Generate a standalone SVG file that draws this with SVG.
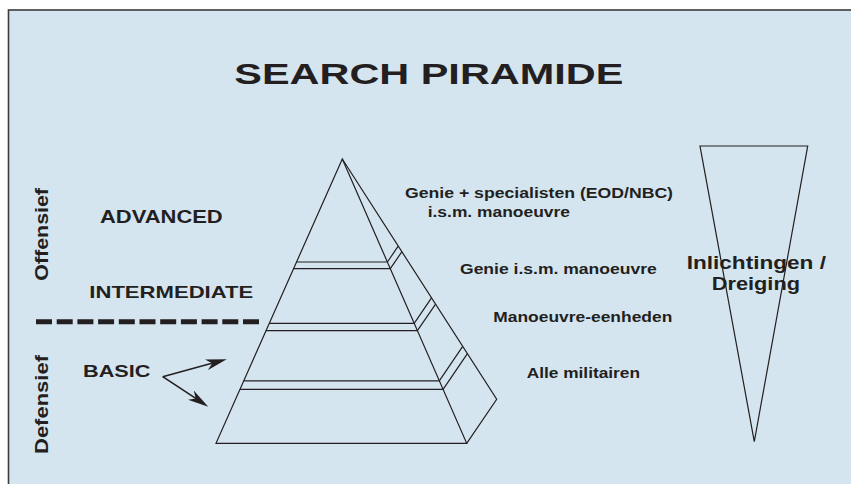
<svg xmlns="http://www.w3.org/2000/svg" width="851" height="484" viewBox="0 0 851 484">
<defs>
<style>
.t{font-family:"Liberation Sans",Arial,Helvetica,sans-serif;font-weight:bold;fill:#231f20}
.ln{fill:none;stroke:#231f20;stroke-width:1.2;stroke-linejoin:miter}
.arr{fill:none;stroke:#231f20;stroke-width:1.6}
</style>
<marker id="ah" viewBox="-16 -6 22 12" refX="0" refY="0" markerWidth="22" markerHeight="12" markerUnits="userSpaceOnUse" orient="auto">
<path d="M5,0 L-16,-5.5 L-10,0 L-16,5.5 Z" fill="#231f20"/>
</marker>
</defs>
<rect x="0" y="0" width="851" height="484" fill="#ffffff"/>
<rect id="frame" x="8.5" y="10" width="900" height="520" fill="#d5e5f0" stroke="#3c3c3c" stroke-width="1.6"/>

<g id="title">
<text class="t" x="234.3" y="84.3" font-size="30" textLength="389" lengthAdjust="spacingAndGlyphs">SEARCH PIRAMIDE</text>
</g>

<g id="side-labels">
<text class="t" font-size="18" transform="translate(48.3,280.7) rotate(-90)" textLength="92.7" lengthAdjust="spacingAndGlyphs">Offensief</text>
<text class="t" font-size="18" transform="translate(48.3,454) rotate(-90)" textLength="99" lengthAdjust="spacingAndGlyphs">Defensief</text>
</g>

<g id="level-advanced">
<text class="t" x="100" y="223.3" font-size="17.5" textLength="122.7" lengthAdjust="spacingAndGlyphs">ADVANCED</text>
</g>
<g id="level-intermediate">
<text class="t" x="89.3" y="297.7" font-size="17" textLength="164" lengthAdjust="spacingAndGlyphs">INTERMEDIATE</text>
</g>
<g id="level-basic">
<text class="t" x="83" y="376.7" font-size="17" textLength="67.5" lengthAdjust="spacingAndGlyphs">BASIC</text>
</g>

<g id="divider">
<line x1="36" y1="321.7" x2="259" y2="321.7" stroke="#231f20" stroke-width="5" stroke-dasharray="16 4.7"/>
</g>

<g id="pyramid">
<polygon class="ln" points="342.3,159 216,443.3 466.7,443.3"/>
<polyline class="ln" points="342.3,159 496.7,399.3 466.7,443.3"/>
<polyline class="ln" points="296.5,262 387.4,262 398.2,246.1"/>
<polyline class="ln" points="293.6,268.7 390.3,268.7 401.9,251.7"/>
<polyline class="ln" points="269.3,323.3 414.2,323.3 431.5,297.9"/>
<polyline class="ln" points="266,330.7 417.4,330.7 435.6,304.1"/>
<polyline class="ln" points="243.8,380.8 439.3,380.8 462.7,346.4"/>
<polyline class="ln" points="240,389.3 443.1,389.3 467.4,353.6"/>
</g>

<g id="tier-labels">
<text class="t" x="405" y="197.7" font-size="14" textLength="268" lengthAdjust="spacingAndGlyphs">Genie + specialisten (EOD/NBC)</text>
<text class="t" x="427.7" y="216.7" font-size="14" textLength="142.3" lengthAdjust="spacingAndGlyphs">i.s.m. manoeuvre</text>
<text class="t" x="460" y="274" font-size="14" textLength="196.7" lengthAdjust="spacingAndGlyphs">Genie i.s.m. manoeuvre</text>
<text class="t" x="493.3" y="321.7" font-size="14" textLength="179" lengthAdjust="spacingAndGlyphs">Manoeuvre-eenheden</text>
<text class="t" x="526.7" y="378.3" font-size="14" textLength="113.3" lengthAdjust="spacingAndGlyphs">Alle militairen</text>
</g>

<g id="intel-funnel">
<polygon class="ln" points="700,146 807.7,146 754.3,441.7"/>
<text class="t" x="686.7" y="268.7" font-size="17.5" textLength="139.3" lengthAdjust="spacingAndGlyphs">Inlichtingen /</text>
<text class="t" x="711.7" y="290" font-size="17.5" textLength="88.3" lengthAdjust="spacingAndGlyphs">Dreiging</text>
</g>

<g id="connectors">
<line class="arr" x1="162.7" y1="376.7" x2="221.9" y2="360.6" marker-end="url(#ah)"/>
<line class="arr" x1="162.7" y1="376.7" x2="204.1" y2="403.9" marker-end="url(#ah)"/>
</g>
</svg>
